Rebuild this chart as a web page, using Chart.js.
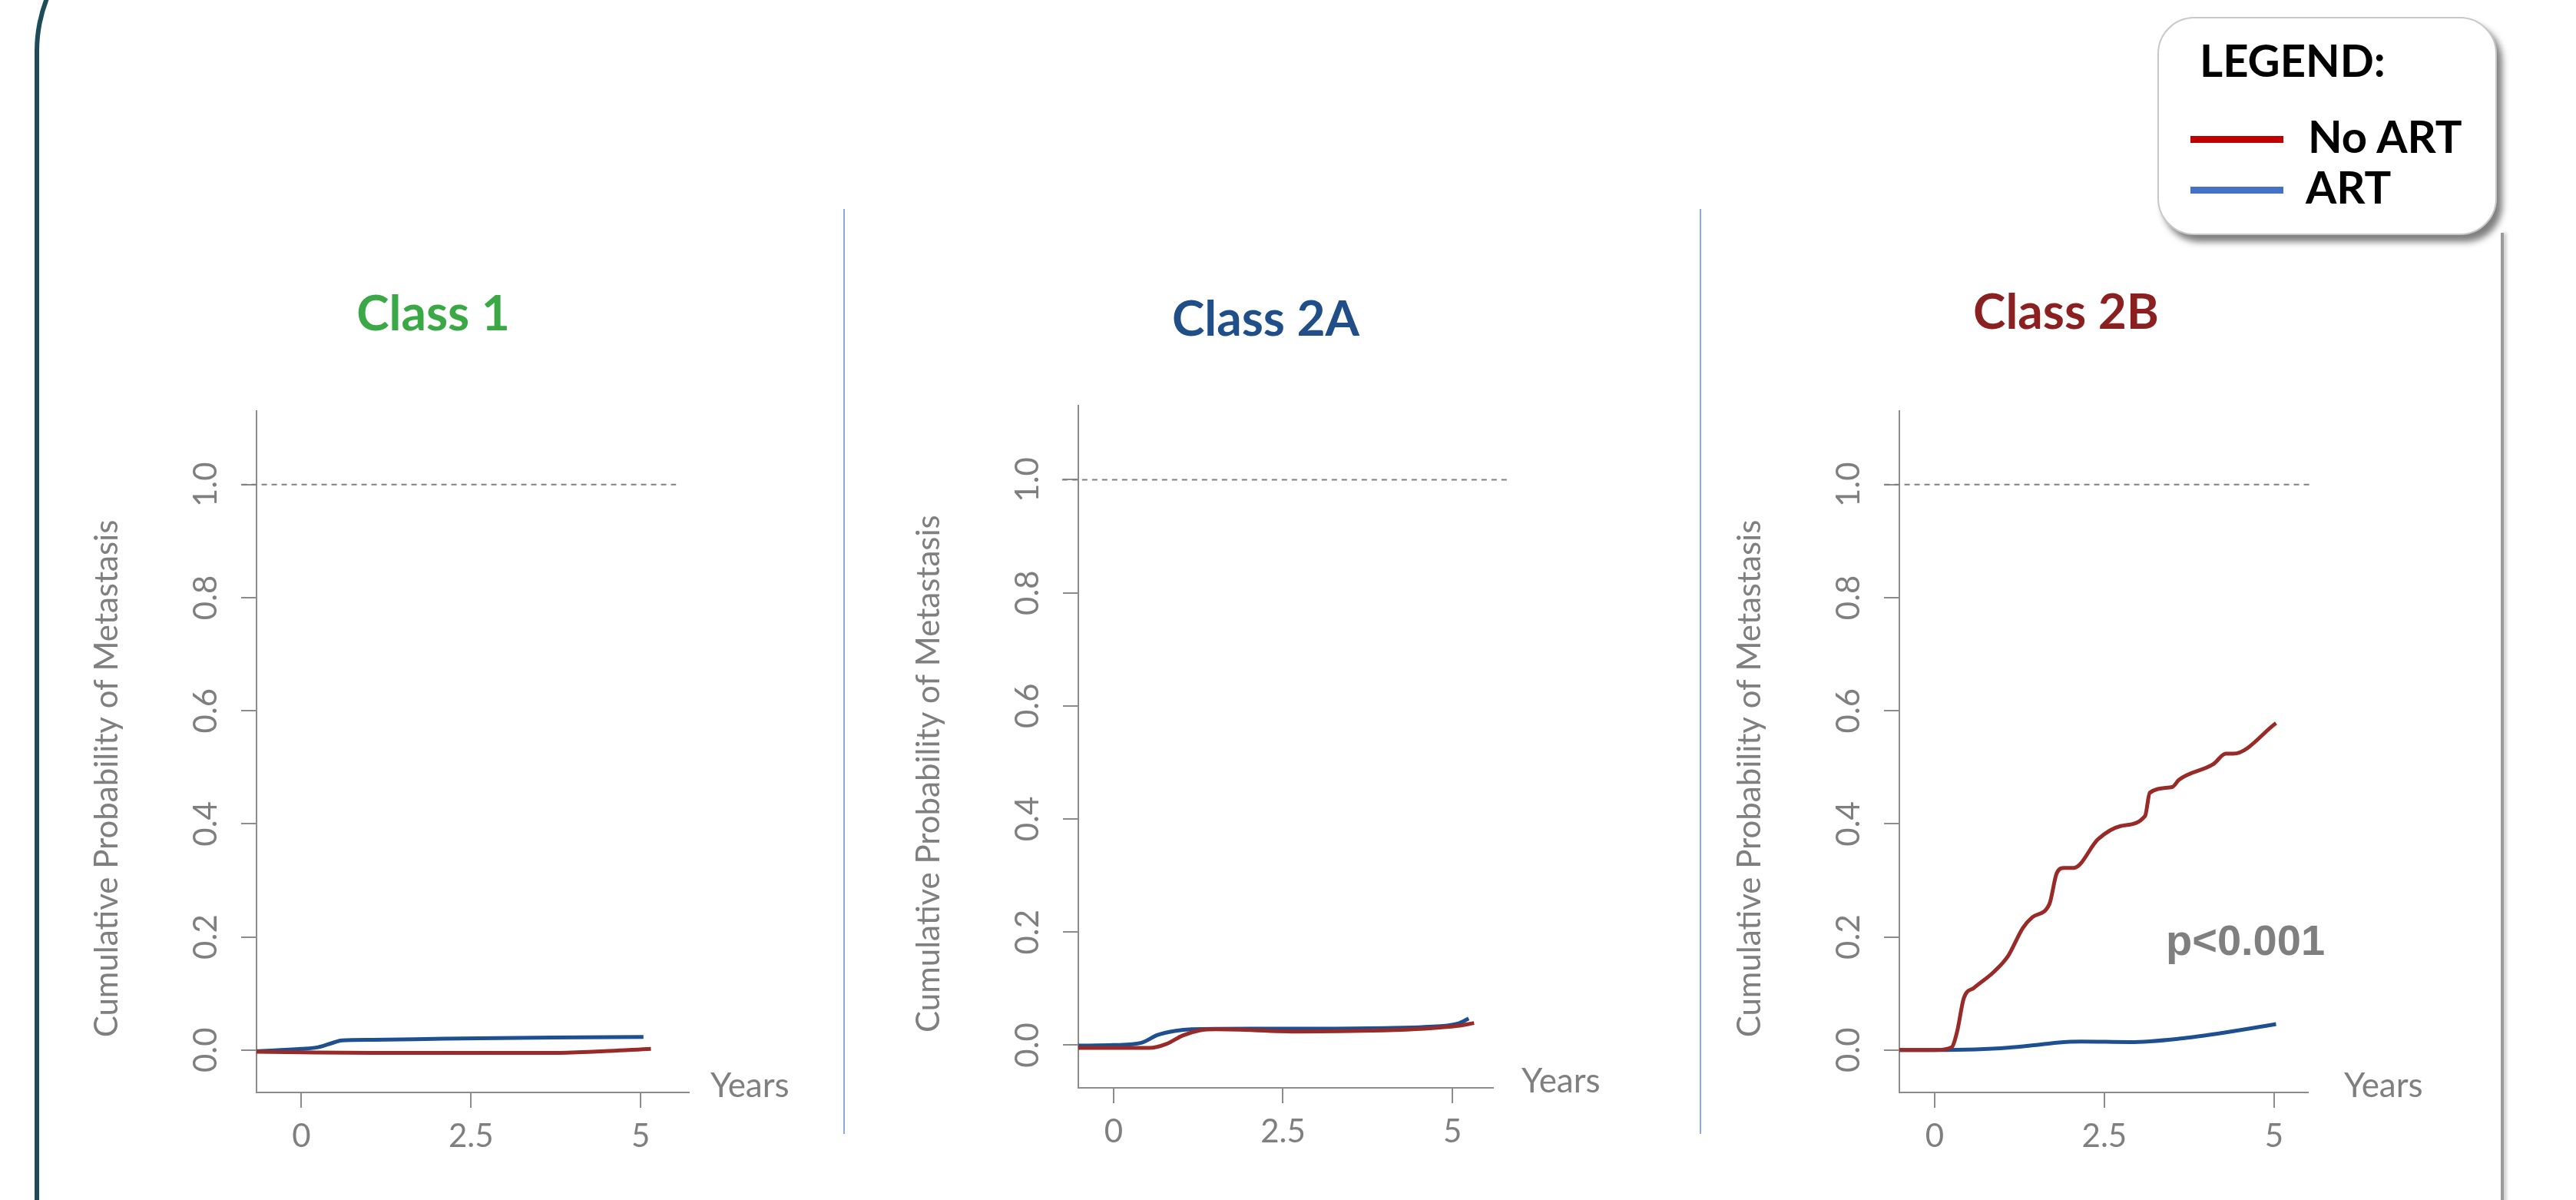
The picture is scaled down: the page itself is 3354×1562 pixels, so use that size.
<!DOCTYPE html>
<html>
<head>
<meta charset="utf-8">
<script src="https://cdn.jsdelivr.net/npm/chart.js@4.4.1/dist/chart.umd.min.js"></script>
<style>
  body { margin: 0; width: 3354px; height: 1562px; overflow: hidden; background: #fff; position: relative; font-family: Lato, "Open Sans", sans-serif; }
  canvas { position: absolute; left: 0; top: 0; pointer-events: none; }
  .frame { position: absolute; left: 45px; top: -126px; width: 4000px; height: 3000px; border-left: 6px solid #1c4b5a; border-top: 6px solid #1c4b5a; border-top-left-radius: 193px; }
  .sep { position: absolute; top: 272px; width: 2px; height: 1204px; background: #8eaadb; }
  .edge { position: absolute; left: 3256px; top: 303px; width: 4px; height: 1300px; background: #9a9a9a; box-shadow: 3px 0 4px rgba(0,0,0,0.25); }
  .title { position: absolute; font-weight: 700; font-size: 64px; line-height: 1; transform: translateX(-50%); white-space: nowrap; }
  #legend { position: absolute; left: 2809px; top: 22px; width: 438px; height: 280px; border: 2px solid #c8c8c8; border-radius: 48px; background: #fff; box-shadow: 7px 9px 9px rgba(0,0,0,0.5); }
  #legend .t { position: absolute; font-weight: 700; line-height: 1; color: #000; white-space: nowrap; }
  #legend .sw { position: absolute; left: 41px; width: 121px; height: 8px; }
  #pval { position: absolute; left: 2820px; top: 1196px; font-family: "Liberation Sans", Arial, sans-serif; font-weight: 700; font-size: 56px; line-height: 1; color: #7f7f7f; }
</style>
</head>
<body>
<div class="frame"></div>
<div class="sep" style="left:1098px"></div>
<div class="sep" style="left:2213px"></div>
<div class="edge"></div>

<div class="title" style="left:564px;top:374px;color:#3aa845">Class 1</div>
<div class="title" style="left:1648px;top:381px;color:#1f4e89">Class 2A</div>
<div class="title" style="left:2690px;top:372px;color:#8b2020">Class 2B</div>

<canvas id="panel1" width="3354" height="1562"></canvas>
<canvas id="panel2" width="3354" height="1562"></canvas>
<canvas id="panel3" width="3354" height="1562"></canvas>

<div id="legend">
  <div class="t" style="left:53px;top:25px;font-size:58px">LEGEND:</div>
  <div class="sw" style="top:153px;height:9px;background:#c00000"></div>
  <div class="t" style="left:194px;top:124px;font-size:58px">No ART</div>
  <div class="sw" style="top:219px;height:9px;background:#4472c4"></div>
  <div class="t" style="left:191px;top:190px;font-size:58px">ART</div>
</div>

<div id="pval">p&lt;0.001</div>

<script>
const xTickValues = [0, 2.5, 5];
const yTickValues = [0, 0.2, 0.4, 0.6, 0.8, 1.0];
const yTitle = 'Cumulative Probability of Metastasis';
const xTitle = 'Years';

// Class 1
const c1NoArtYears = [-0.66, 0, 1.05, 2.1, 3.7, 4.3, 5.15];
const c1NoArtProb  = [-0.003, -0.004, -0.005, -0.005, -0.005, -0.003, 0.002];
const c1ArtYears   = [-0.66, 0, 0.25, 0.47, 0.6, 1.05, 2.1, 3.7, 5.04];
const c1ArtProb    = [-0.002, 0.002, 0.005, 0.013, 0.017, 0.018, 0.02, 0.022, 0.023];

// Class 2A
const c2aNoArtYears = [-0.52, 0, 0.53, 0.78, 1.02, 1.27, 1.51, 2.74, 3.97, 4.59, 5.08, 5.32];
const c2aNoArtProb  = [-0.005, -0.005, -0.005, 0.002, 0.017, 0.026, 0.028, 0.024, 0.026, 0.029, 0.034, 0.039];
const c2aArtYears   = [-0.52, 0, 0.41, 0.65, 0.9, 1.15, 2.0, 3.0, 4.0, 4.59, 5.08, 5.24];
const c2aArtProb    = [-0.001, 0, 0.004, 0.018, 0.025, 0.028, 0.029, 0.029, 0.03, 0.032, 0.038, 0.047];

// Class 2B
const c2bNoArtYears = [-0.52, 0, 0.25, 0.33, 0.43, 0.58, 0.87, 1.08, 1.3, 1.44, 1.69, 1.8, 1.91, 2.05, 2.41, 2.74, 3.1, 3.17, 3.5, 3.6, 4.11, 4.29, 4.4, 5.03];
const c2bNoArtProb  = [0, 0, 0.005, 0.032, 0.092, 0.11, 0.138, 0.166, 0.216, 0.235, 0.258, 0.313, 0.322, 0.322, 0.373, 0.396, 0.414, 0.455, 0.465, 0.478, 0.506, 0.524, 0.524, 0.578];
const c2bArtYears   = [-0.52, 0, 0.6, 1.08, 1.5, 1.8, 2.16, 2.88, 3.6, 4.33, 5.03];
const c2bArtProb    = [0, 0, 0.001, 0.004, 0.009, 0.013, 0.015, 0.014, 0.02, 0.032, 0.046];

const W = 3354, H = 1562;
const axisGrey = '#8c8c8c';
const textGrey = '#7f7f7f';
const noArtColor = '#982b27';
const artColor = '#1d4f91';

const pts = (xs, ys) => xs.map((x, i) => ({ x: x, y: ys[i] }));

// R-style extras: rotated y tick labels, y title, "Years"
const rStyle = {
  id: 'rStyle',
  afterDraw(chart, args, opts) {
    const { ctx, chartArea, scales: { y } } = chart;
    ctx.save();
    ctx.fillStyle = textGrey;
    ctx.textAlign = 'center';
    ctx.textBaseline = 'middle';
    ctx.font = '42px Lato, sans-serif';
    yTickValues.forEach(v => {
      ctx.save();
      ctx.translate(chartArea.left - 66, y.getPixelForValue(v));
      ctx.rotate(-Math.PI / 2);
      ctx.fillText(v.toFixed(1), 0, 0);
      ctx.restore();
    });
    ctx.save();
    ctx.font = '42px Lato, sans-serif';
    ctx.translate(chartArea.left - 195, y.getPixelForValue(0.48));
    ctx.rotate(-Math.PI / 2);
    ctx.fillText(yTitle, 0, 0);
    ctx.restore();
    ctx.textAlign = 'left';
    ctx.textBaseline = 'alphabetic';
    ctx.font = '44px Lato, sans-serif';
    ctx.fillText(xTitle, chartArea.right + opts.yearsDx, chartArea.bottom + 6);
    ctx.restore();
  }
};

function makePanel(id, box, xMin, xMax, yMin, yMax, refLine, noArt, art, yearsDx) {
  const yW = 100, xH = 100;
  return new Chart(document.getElementById(id), {
    type: 'line',
    data: {
      datasets: [
        { label: 'ref', data: refLine, borderColor: '#808080', borderWidth: 2, borderDash: [7, 6], pointRadius: 0, clip: false },
        { label: 'No ART', data: noArt, borderColor: noArtColor, borderWidth: 5, pointRadius: 0, cubicInterpolationMode: 'monotone', clip: false },
        { label: 'ART', data: art, borderColor: artColor, borderWidth: 5, pointRadius: 0, cubicInterpolationMode: 'monotone', clip: false }
      ]
    },
    options: {
      responsive: false,
      animation: false,
      events: [],
      layout: { padding: { left: box.left - yW, top: box.top, right: W - box.right, bottom: H - box.bottom - xH } },
      plugins: { legend: { display: false }, tooltip: { enabled: false }, rStyle: { yearsDx: yearsDx } },
      scales: {
        x: {
          type: 'linear', min: xMin, max: xMax,
          afterFit: s => { s.height = xH; },
          afterBuildTicks: s => { s.ticks = xTickValues.map(v => ({ value: v })); },
          grid: { drawOnChartArea: false, drawTicks: true, tickLength: 20, color: axisGrey, lineWidth: 2 },
          border: { display: true, color: axisGrey, width: 2 },
          ticks: { color: textGrey, font: { family: 'Lato', size: 42 }, padding: 12, maxRotation: 0, callback: v => String(v) }
        },
        y: {
          type: 'linear', min: yMin, max: yMax,
          afterFit: s => { s.width = yW; },
          afterBuildTicks: s => { s.ticks = yTickValues.map(v => ({ value: v })); },
          grid: { drawOnChartArea: false, drawTicks: true, tickLength: 20, color: axisGrey, lineWidth: 2 },
          border: { display: true, color: axisGrey, width: 2 },
          ticks: { display: false }
        }
      }
    },
    plugins: [rStyle]
  });
}

makePanel('panel1', { left: 334, top: 535, right: 897, bottom: 1422 }, -0.66, 5.71, -0.075, 1.13,
  [{ x: -0.88, y: 1 }, { x: 5.52, y: 1 }],
  pts(c1NoArtYears, c1NoArtProb), pts(c1ArtYears, c1ArtProb), 28);

makePanel('panel2', { left: 1404, top: 528, right: 1944, bottom: 1416 }, -0.52, 5.6, -0.0756, 1.131,
  [{ x: -0.76, y: 1 }, { x: 5.82, y: 1 }],
  pts(c2aNoArtYears, c2aNoArtProb), pts(c2aArtYears, c2aArtProb), 37);

makePanel('panel3', { left: 2473, top: 535, right: 3005, bottom: 1422 }, -0.52, 5.5, -0.075, 1.13,
  [{ x: -0.74, y: 1 }, { x: 5.53, y: 1 }],
  pts(c2bNoArtYears, c2bNoArtProb), pts(c2bArtYears, c2bArtProb), 47);
</script>
</body>
</html>
